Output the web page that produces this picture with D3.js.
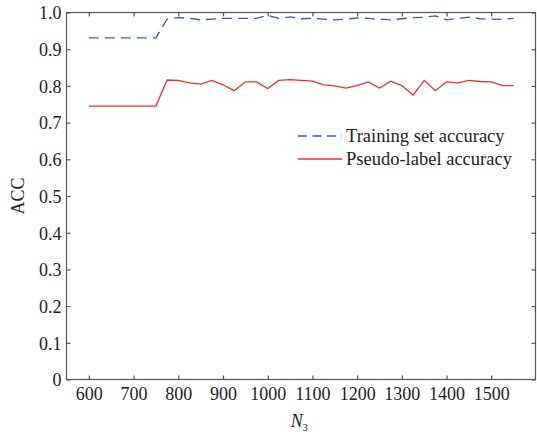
<!DOCTYPE html>
<html>
<head>
<meta charset="utf-8">
<script src="https://cdn.jsdelivr.net/npm/d3@7"></script>
<style>
  html, body { margin: 0; padding: 0; background: #fff; }
  svg text { font-family: "Liberation Serif", "Times New Roman", "DejaVu Serif", serif !important; fill: #222; }
</style>
</head>
<body>
<svg id="chart" width="537" height="432"></svg>
<script>
// N3 values (sample sizes)
const n3 = [600, 625, 650, 675, 700, 725, 750,
  775, 800, 825, 850, 875, 900, 925, 950, 975, 1000,
  1025, 1050, 1075, 1100, 1125, 1150, 1175, 1200, 1225, 1250,
  1275, 1300, 1325, 1350, 1375, 1400, 1425, 1450, 1475, 1500, 1525, 1550];

// Training set accuracy
const trainAcc = [0.931, 0.931, 0.931, 0.931, 0.931, 0.931, 0.931,
  0.982, 0.986, 0.984, 0.980, 0.982, 0.984, 0.984, 0.984, 0.984, 0.992,
  0.984, 0.988, 0.983, 0.984, 0.982, 0.980, 0.982, 0.985, 0.984, 0.982,
  0.980, 0.983, 0.986, 0.987, 0.991, 0.980, 0.984, 0.987, 0.983, 0.982, 0.981, 0.984];

// Pseudo-label accuracy
const pseudoAcc = [0.745, 0.745, 0.745, 0.745, 0.745, 0.745, 0.745,
  0.816, 0.815, 0.808, 0.805, 0.815, 0.803, 0.787, 0.811, 0.811, 0.793,
  0.815, 0.817, 0.815, 0.813, 0.803, 0.800, 0.794, 0.801, 0.811, 0.794,
  0.813, 0.801, 0.775, 0.815, 0.787, 0.811, 0.808, 0.815, 0.812, 0.811, 0.801, 0.801];

const xTicks = [600, 700, 800, 900, 1000, 1100, 1200, 1300, 1400, 1500];
const yTicks = [0, 0.1, 0.2, 0.3, 0.4, 0.5, 0.6, 0.7, 0.8, 0.9, 1.0];
const seriesNames = ["Training set accuracy", "Pseudo-label accuracy"];

const svg = d3.select("#chart");
const margin = {left: 66.5, right: 1, top: 12.5, bottom: 52.5};
const W = 537, H = 432;
const x = d3.scaleLinear().domain([550, 1600]).range([margin.left, W - margin.right]);
const y = d3.scaleLinear().domain([0, 1]).range([H - margin.bottom, margin.top]);

const axisColor = "#555";
const fontSize = 18;

// Box frame
svg.append("rect")
  .attr("x", x.range()[0]).attr("y", y.range()[1])
  .attr("width", x.range()[1] - x.range()[0] - 0.5)
  .attr("height", y.range()[0] - y.range()[1])
  .attr("fill", "none").attr("stroke", axisColor).attr("stroke-width", 1.2);

const yFmt = d => d === 0 ? "0" : d3.format(".1f")(d);

// Bottom axis
const gx = svg.append("g").attr("transform", `translate(0,${y(0)})`)
  .call(d3.axisBottom(x).tickValues(xTicks).tickSize(-4).tickPadding(8).tickFormat(d3.format("d")));
// Top ticks
const gxt = svg.append("g").attr("transform", `translate(0,${y(1)})`)
  .call(d3.axisTop(x).tickValues(xTicks).tickSize(-4).tickFormat(""));
// Left axis
const gy = svg.append("g").attr("transform", `translate(${x(550)},0)`)
  .call(d3.axisLeft(y).tickValues(yTicks).tickSize(-4).tickPadding(5).tickFormat(yFmt));
// Right ticks
const gyr = svg.append("g").attr("transform", `translate(${x(1600) - 0.5},0)`)
  .call(d3.axisRight(y).tickValues(yTicks).tickSize(-4).tickFormat(""));

[gx, gxt, gy, gyr].forEach(g => {
  g.attr("font-family", null);
  g.select(".domain").remove();
  g.selectAll(".tick line").attr("stroke", axisColor).attr("stroke-width", 1.2);
  g.selectAll(".tick text").attr("font-size", fontSize).attr("fill", "#222");
});
gy.selectAll(".tick text").attr("dy", "0.35em");

// Axis titles
svg.append("text")
  .attr("transform", `translate(24,${(y(0) + y(1)) / 2}) rotate(-90)`)
  .attr("text-anchor", "middle").attr("font-size", fontSize).text("ACC");

const xt = svg.append("text")
  .attr("x", (x.range()[0] + x.range()[1]) / 2 - 2).attr("y", 427)
  .attr("text-anchor", "middle").attr("font-size", fontSize);
xt.append("tspan").attr("font-style", "italic").text("N");
xt.append("tspan").attr("font-size", 10).attr("dy", 4).text("3");

// Series lines
const line = vals => d3.line().x((d, i) => x(n3[i])).y(d => y(d))(vals);

svg.append("path").attr("d", line(pseudoAcc))
  .attr("fill", "none").attr("stroke", "#ee2b2b").attr("stroke-width", 1.3);
svg.append("path").attr("d", line(trainAcc))
  .attr("fill", "none").attr("stroke", "#2e5fae").attr("stroke-width", 1.3)
  .attr("stroke-dasharray", "10,6");

// Legend
const legend = svg.append("g");
const legendRows = [
  {name: seriesNames[0], color: "#2e5fae", dash: "9,5.5"},
  {name: seriesNames[1], color: "#ee2b2b", dash: null}
];
legendRows.forEach((r, i) => {
  const ly = 136 + i * 23;
  legend.append("line")
    .attr("x1", 298).attr("x2", 342).attr("y1", ly).attr("y2", ly)
    .attr("stroke", r.color).attr("stroke-width", 1.3)
    .attr("stroke-dasharray", r.dash);
  legend.append("text")
    .attr("x", 346).attr("y", ly).attr("dy", "0.35em")
    .attr("font-size", 18.5).text(r.name);
});
</script>
</body>
</html>
